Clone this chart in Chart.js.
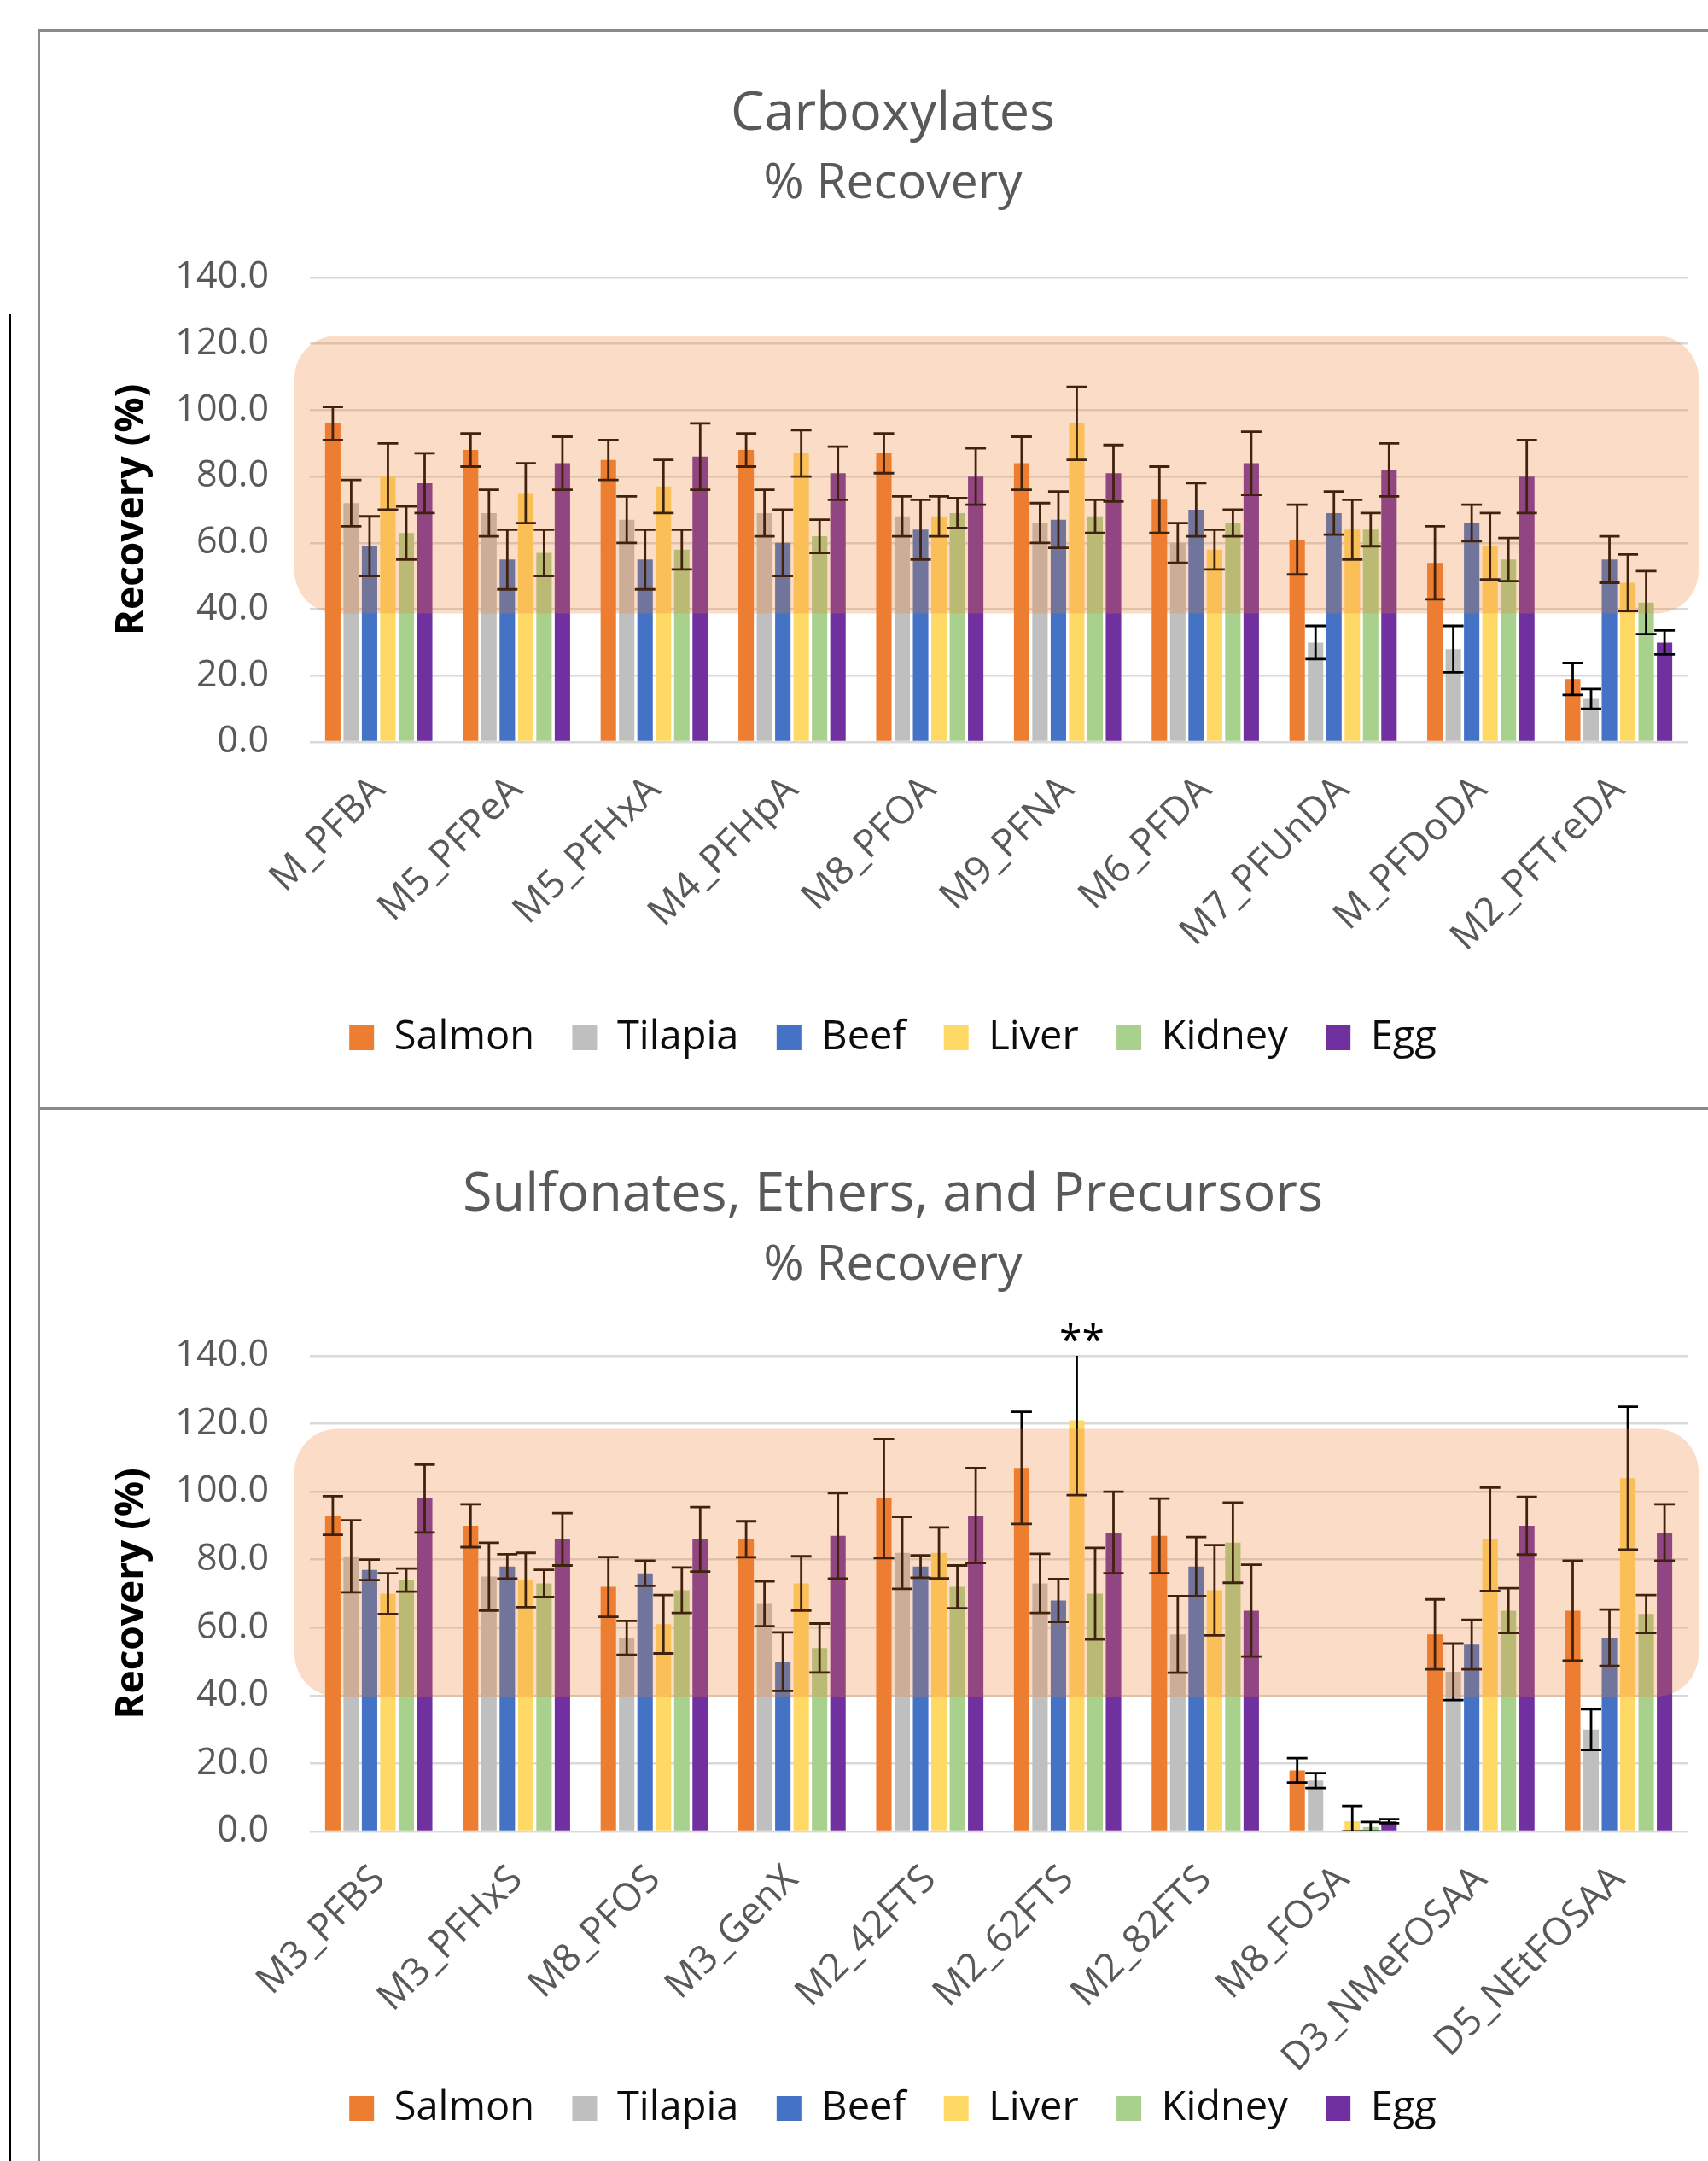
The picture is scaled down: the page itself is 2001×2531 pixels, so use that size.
<!DOCTYPE html>
<html>
<head>
<meta charset="utf-8">
<script src="https://cdn.jsdelivr.net/npm/chart.js@4.4.1/dist/chart.umd.min.js"></script>
<style>
  html, body { margin: 0; padding: 0; background: #fff; }
  body { width: 2001px; height: 2531px; position: relative; overflow: hidden; }
  .frame { position: absolute; left: 44px; top: 34px; width: 1960px; height: 2500px;
           border-left: 3px solid #8a8a8a; border-top: 3px solid #8a8a8a; }
  .divider { position: absolute; left: 44px; top: 1297px; width: 1960px; height: 3px; background: #8a8a8a; }
  .edge { position: absolute; left: 11px; top: 368px; width: 2px; height: 2163px; background: #000; }
  canvas { position: absolute; left: 45px; }
  #carb { top: 35px; }
  #sulf { top: 1299px; }
</style>
</head>
<body>
<div class="frame"></div>
<div class="edge"></div>
<canvas id="carb" width="1956" height="1264" style="width:1956px;height:1264px"></canvas>
<canvas id="sulf" width="1956" height="1232" style="width:1956px;height:1232px"></canvas>
<div class="divider"></div>
<script>
// --- data ---
const seriesNames = ['Salmon', 'Tilapia', 'Beef', 'Liver', 'Kidney', 'Egg'];
const seriesColors = ['#ED7D31', '#BFBFBF', '#4472C4', '#FFD966', '#A9D18E', '#7030A0'];
const yTicks = [0, 20, 40, 60, 80, 100, 120, 140];

// Carboxylates
const carbLabels = ['M_PFBA', 'M5_PFPeA', 'M5_PFHxA', 'M4_PFHpA', 'M8_PFOA', 'M9_PFNA', 'M6_PFDA', 'M7_PFUnDA', 'M_PFDoDA', 'M2_PFTreDA'];
const carbSalmon    = [96, 88, 85, 88, 87, 84, 73, 61, 54, 19];
const carbSalmonErr = [5, 5, 6, 5, 6, 8, 10, 10.5, 11, 4.8];
const carbTilapia    = [72, 69, 67, 69, 68, 66, 60, 30, 28, 13];
const carbTilapiaErr = [7, 7, 7, 7, 6, 6, 6, 5, 7, 3];
const carbBeef    = [59, 55, 55, 60, 64, 67, 70, 69, 66, 55];
const carbBeefErr = [9, 9, 9, 10, 9, 8.5, 8, 6.5, 5.5, 7];
const carbLiver    = [80, 75, 77, 87, 68, 96, 58, 64, 59, 48];
const carbLiverErr = [10, 9, 8, 7, 6, 11, 6, 9, 10, 8.5];
const carbKidney    = [63, 57, 58, 62, 69, 68, 66, 64, 55, 42];
const carbKidneyErr = [8, 7, 6, 5, 4.5, 5, 4, 5, 6.5, 9.5];
const carbEgg    = [78, 84, 86, 81, 80, 81, 84, 82, 80, 30];
const carbEggErr = [9, 8, 10, 8, 8.5, 8.5, 9.5, 8, 11, 3.6];
const carbBand = [38.7, 122.5];

// Sulfonates, Ethers, and Precursors
const sulfLabels = ['M3_PFBS', 'M3_PFHxS', 'M8_PFOS', 'M3_GenX', 'M2_42FTS', 'M2_62FTS', 'M2_82FTS', 'M8_FOSA', 'D3_NMeFOSAA', 'D5_NEtFOSAA'];
const sulfSalmon    = [93, 90, 72, 86, 98, 107, 87, 18, 58, 65];
const sulfSalmonErr = [5.7, 6.3, 8.8, 5.3, 17.5, 16.5, 11, 3.6, 10.3, 14.7];
const sulfTilapia    = [81, 75, 57, 67, 82, 73, 58, 15, 47, 30];
const sulfTilapiaErr = [10.6, 10, 5, 6.6, 10.6, 8.7, 11.3, 2.2, 8.3, 6];
const sulfBeef    = [77, 78, 76, 50, 78, 68, 78, 0, 55, 57];
const sulfBeefErr = [3, 3.6, 3.7, 8.6, 3.3, 6.3, 8.7, 0, 7.3, 8.3];
const sulfLiver    = [70, 74, 61, 73, 82, 121, 71, 3, 86, 104];
const sulfLiverErr = [6, 8, 8.6, 8, 7.5, 22, 13.3, 4.5, 15.2, 21];
const sulfKidney    = [74, 73, 71, 54, 72, 70, 85, 1.3, 65, 64];
const sulfKidneyErr = [3.4, 4, 6.7, 7.2, 6.3, 13.5, 11.8, 1.5, 6.6, 5.6];
const sulfEgg    = [98, 86, 86, 87, 93, 88, 65, 3, 90, 88];
const sulfEggErr = [10, 7.7, 9.5, 12.6, 14, 12, 13.5, 0.6, 8.5, 8.3];
const sulfBand = [39.7, 118.5];
// "**" marker above Liver / M2_62FTS
const sulfNote = { text: '**', category: 5, series: 3 };

const FONT = "'Open Sans', 'Noto Sans', sans-serif";

// --- error bars, acceptance band and note ---
const recoveryMarks = {
    id: 'recoveryMarks',
    afterDatasetsDraw(chart, args, opts) {
        const { ctx, chartArea, scales: { y } } = chart;

        ctx.save();
        ctx.beginPath();
        ctx.rect(chartArea.left, chartArea.top, chartArea.width, chartArea.height);
        ctx.clip();
        ctx.strokeStyle = '#000';
        ctx.lineWidth = 2.8;
        chart.data.datasets.forEach((ds, di) => {
            chart.getDatasetMeta(di).data.forEach((bar, i) => {
                const e = ds.errors[i];
                if (!e) return;
                const v = ds.data[i];
                const yt = y.getPixelForValue(v + e);
                const yb = y.getPixelForValue(Math.max(v - e, 0));
                const hw = 12;
                ctx.beginPath();
                ctx.moveTo(bar.x, yt); ctx.lineTo(bar.x, yb);
                ctx.moveTo(bar.x - hw, yt); ctx.lineTo(bar.x + hw, yt);
                ctx.moveTo(bar.x - hw, yb); ctx.lineTo(bar.x + hw, yb);
                ctx.stroke();
            });
        });
        ctx.restore();

        // shaded acceptance range (drawn over the bars)
        const top = y.getPixelForValue(opts.band[1]);
        const bot = y.getPixelForValue(opts.band[0]);
        ctx.save();
        ctx.fillStyle = 'rgba(237,125,49,0.27)';
        ctx.beginPath();
        ctx.roundRect(chartArea.left - 18, top, chartArea.width + 31, bot - top, 50);
        ctx.fill();
        ctx.restore();

        if (opts.note) {
            const bar = chart.getDatasetMeta(opts.note.series).data[opts.note.category];
            ctx.save();
            ctx.fillStyle = '#000';
            ctx.font = '48px ' + FONT;
            ctx.textAlign = 'center';
            ctx.textBaseline = 'alphabetic';
            ctx.fillText(opts.note.text, bar.x + 6, y.getPixelForValue(140) - 2);
            ctx.restore();
        }
    }
};

// legend gap between entries is made with trailing spaces so the
// vertical legend padding can stay small
function legendLabels(chart) {
    const items = Chart.defaults.plugins.legend.labels.generateLabels(chart);
    return items.map((it, i) => ({ ...it, text: i < items.length - 1 ? it.text + '  ' : it.text }));
}

function makeChart(id, title, labels, values, errors, band, geo, note) {
    const datasets = seriesNames.map((name, i) => ({
        label: name,
        data: values[i],
        errors: errors[i],
        backgroundColor: seriesColors[i],
        borderWidth: 0,
        categoryPercentage: 0.8,
        barPercentage: 0.84
    }));

    return new Chart(document.getElementById(id), {
        type: 'bar',
        data: { labels, datasets },
        plugins: [recoveryMarks],
        options: {
            responsive: false,
            animation: false,
            layout: { padding: { left: 70, right: 24, top: 0, bottom: geo.padBottom } },
            plugins: {
                recoveryMarks: { band, note },
                title: {
                    display: true, text: title, color: '#595959',
                    font: { family: FONT, size: 63, weight: 'normal' },
                    padding: { top: geo.titleTop, bottom: 0 }
                },
                subtitle: {
                    display: true, text: '% Recovery', color: '#595959',
                    font: { family: FONT, size: 57, weight: 'normal' },
                    padding: { top: geo.subTop, bottom: geo.subBottom }
                },
                legend: {
                    position: 'bottom',
                    labels: {
                        color: '#0d0d0d', boxWidth: 29, boxHeight: 29, padding: 20,
                        font: { family: FONT, size: 47 },
                        generateLabels: legendLabels
                    }
                },
                tooltip: { enabled: false }
            },
            scales: {
                x: {
                    grid: { display: false },
                    border: { display: false },
                    ticks: {
                        color: '#595959', minRotation: 45, maxRotation: 45, padding: 22,
                        font: { family: FONT, size: 45 }
                    },
                    afterFit: s => { s.height = geo.xHeight; }
                },
                y: {
                    min: 0, max: 140,
                    afterBuildTicks: s => { s.ticks = yTicks.map(v => ({ value: v })); },
                    grid: { color: '#D9D9D9', lineWidth: 2.5, drawTicks: false },
                    border: { display: false },
                    ticks: {
                        color: '#595959', padding: 48,
                        font: { family: FONT, size: 43 },
                        callback: v => Number(v).toFixed(1)
                    },
                    title: {
                        display: true, text: 'Recovery (%)', color: '#000',
                        font: { family: FONT, size: 46, weight: 'bold' },
                        padding: { top: 12, bottom: 0 }
                    },
                    afterFit: s => { s.width = 248; }
                }
            }
        }
    });
}

makeChart('carb', 'Carboxylates', carbLabels,
    [carbSalmon, carbTilapia, carbBeef, carbLiver, carbKidney, carbEgg],
    [carbSalmonErr, carbTilapiaErr, carbBeefErr, carbLiverErr, carbKidneyErr, carbEggErr],
    carbBand,
    { titleTop: 61, subTop: 10, subBottom: 75, xHeight: 303, padBottom: 50 },
    null);

makeChart('sulf', 'Sulfonates, Ethers, and Precursors', sulfLabels,
    [sulfSalmon, sulfTilapia, sulfBeef, sulfLiver, sulfKidney, sulfEgg],
    [sulfSalmonErr, sulfTilapiaErr, sulfBeefErr, sulfLiverErr, sulfKidneyErr, sulfEggErr],
    sulfBand,
    { titleTop: 63, subTop: 11, subBottom: 71, xHeight: 281, padBottom: 28 },
    sulfNote);
</script>
</body>
</html>
